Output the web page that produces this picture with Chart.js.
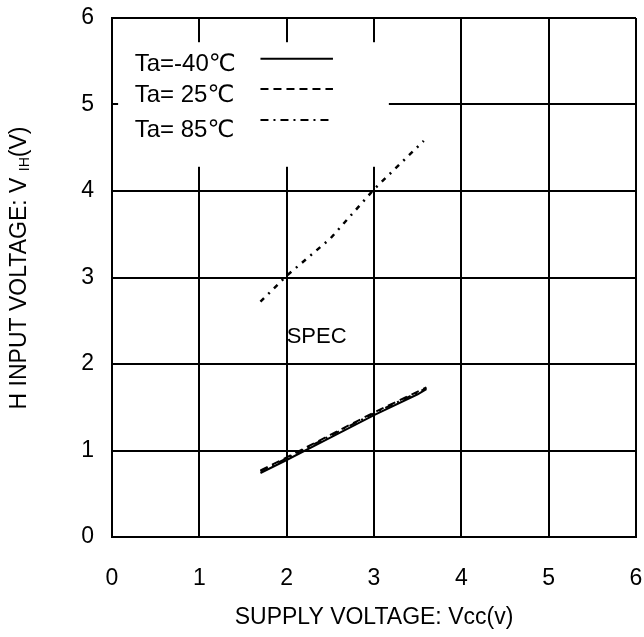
<!DOCTYPE html>
<html>
<head>
<meta charset="utf-8">
<script src="https://cdn.jsdelivr.net/npm/chart.js@4.4.1/dist/chart.umd.min.js"></script>
<style>
  html, body { margin: 0; padding: 0; background: #fff; }
  #wrap { width: 644px; height: 637px; }
</style>
</head>
<body>
<div id="wrap"><canvas id="c" width="644" height="637"></canvas></div>
<script>
// ---- data ----
const xTicks = [0, 1, 2, 3, 4, 5, 6];
const yTicks = [0, 1, 2, 3, 4, 5, 6];
const vcc = [1.7, 2.0, 2.5, 3.0, 3.5, 3.6];
const vihM40 = [0.74, 0.89, 1.15, 1.41, 1.65, 1.71];
const vih25 = [0.77, 0.92, 1.18, 1.44, 1.68, 1.73];
const vih85 = [0.76, 0.91, 1.17, 1.43, 1.67, 1.72];
const specVcc = [1.7, 2.0, 2.5, 3.0, 3.57];
const specVih = [2.72, 3.02, 3.45, 4.02, 4.58];
const seriesLabels = ['Ta=-40\u2103', 'Ta= 25\u2103', 'Ta= 85\u2103'];
const xTitle = 'SUPPLY VOLTAGE: Vcc(v)';
const yTitleParts = ['H INPUT VOLTAGE: V ', 'IH', '(V)'];
const specLabel = 'SPEC';

const FONT = '"Liberation Sans", Arial, "DejaVu Sans", sans-serif';
Chart.defaults.font.family = FONT;
Chart.defaults.font.size = 23;
Chart.defaults.color = '#000';
const pts = (xs, ys) => xs.map((x, i) => ({ x: x, y: ys[i] }));

const legendPlugin = {
  id: 'customDecor',
  beforeDatasetsDraw(chart) {
    const { ctx, scales: { x, y } } = chart;
    const x0 = x.getPixelForValue(0.07), x1 = x.getPixelForValue(3.17);
    const y0 = y.getPixelForValue(5.72), y1 = y.getPixelForValue(4.28);
    ctx.save();
    ctx.fillStyle = '#fff';
    ctx.fillRect(x0, y0, x1 - x0, y1 - y0);
    ctx.restore();
  },
  afterDraw(chart) {
    const { ctx, chartArea, scales: { x, y } } = chart;
    ctx.save();
    ctx.fillStyle = '#000';
    ctx.strokeStyle = '#000';
    ctx.font = '24px ' + FONT;
    ctx.textBaseline = 'middle';
    ctx.textAlign = 'left';
    const rowsY = [5.46, 5.1, 4.7];
    const lineY = [5.53, 5.18, 4.82];
    const ds = chart.data.datasets;
    for (let i = 0; i < 3; i++) {
      const py = y.getPixelForValue(rowsY[i]);
      ctx.fillText(seriesLabels[i], x.getPixelForValue(0.26), py);
      ctx.beginPath();
      ctx.lineWidth = 2;
      ctx.setLineDash(ds[i].borderDash || []);
      const ly = y.getPixelForValue(lineY[i]);
      ctx.moveTo(x.getPixelForValue(1.70), ly);
      ctx.lineTo(x.getPixelForValue(2.53), ly);
      ctx.stroke();
    }
    ctx.setLineDash([]);
    ctx.font = '22px ' + FONT;
    ctx.fillText(specLabel, x.getPixelForValue(2.0), y.getPixelForValue(2.31));
    ctx.textAlign = 'center';
    ctx.font = '23px ' + FONT;
    ctx.fillText(xTitle, (chartArea.left + chartArea.right) / 2, 618);
    ctx.translate(20, 268);
    ctx.rotate(-Math.PI / 2);
    ctx.font = '23px ' + FONT;
    const w0 = ctx.measureText(yTitleParts[0]).width;
    const w2 = ctx.measureText(yTitleParts[2]).width;
    ctx.font = '14px ' + FONT;
    const w1 = ctx.measureText(yTitleParts[1]).width;
    let sx = -(w0 + w1 + w2) / 2;
    ctx.textAlign = 'left';
    ctx.font = '23px ' + FONT;
    ctx.fillText(yTitleParts[0], sx, 0);
    sx += w0;
    ctx.font = '14px ' + FONT;
    ctx.fillText(yTitleParts[1], sx, 5);
    sx += w1;
    ctx.font = '23px ' + FONT;
    ctx.fillText(yTitleParts[2], sx, 0);
    ctx.restore();
  }
};

new Chart(document.getElementById('c'), {
  type: 'scatter',
  data: {
    datasets: [
      { label: seriesLabels[0], data: pts(vcc, vihM40), showLine: true, borderColor: '#000', borderWidth: 2, pointRadius: 0, borderDash: [] },
      { label: seriesLabels[1], data: pts(vcc, vih25), showLine: true, borderColor: '#000', borderWidth: 2, pointRadius: 0, borderDash: [8, 5] },
      { label: seriesLabels[2], data: pts(vcc, vih85), showLine: true, borderColor: '#000', borderWidth: 2, pointRadius: 0, borderDash: [8, 5, 2, 5] },
      { label: specLabel, data: pts(specVcc, specVih), showLine: true, borderColor: '#000', borderWidth: 2.5, pointRadius: 0, borderDash: [5, 6, 2, 6] }
    ]
  },
  options: {
    responsive: false,
    animation: false,
    layout: { padding: { top: 18, right: 8, left: 0, bottom: 0 } },
    plugins: { legend: { display: false }, tooltip: { enabled: false } },
    scales: {
      x: {
        type: 'linear', min: 0, max: 6,
        afterFit(s) { s.height = 100; s.paddingLeft = 0; s.paddingRight = 0; },
        afterBuildTicks(s) { s.ticks = xTicks.map(v => ({ value: v })); },
        grid: { color: '#000', lineWidth: 2, drawTicks: false },
        border: { display: true, color: '#000', width: 2 },
        ticks: { color: '#000', padding: 28, font: { family: FONT, size: 23 }, maxRotation: 0 }
      },
      y: {
        type: 'linear', min: 0, max: 6,
        afterFit(s) { s.width = 112; s.paddingTop = 0; s.paddingBottom = 0; },
        afterBuildTicks(s) { s.ticks = yTicks.map(v => ({ value: v })); },
        grid: { color: '#000', lineWidth: 2, drawTicks: false },
        border: { display: true, color: '#000', width: 2 },
        ticks: { color: '#000', padding: 18, font: { family: FONT, size: 23 } }
      }
    }
  },
  plugins: [legendPlugin]
});
</script>
</body>
</html>
